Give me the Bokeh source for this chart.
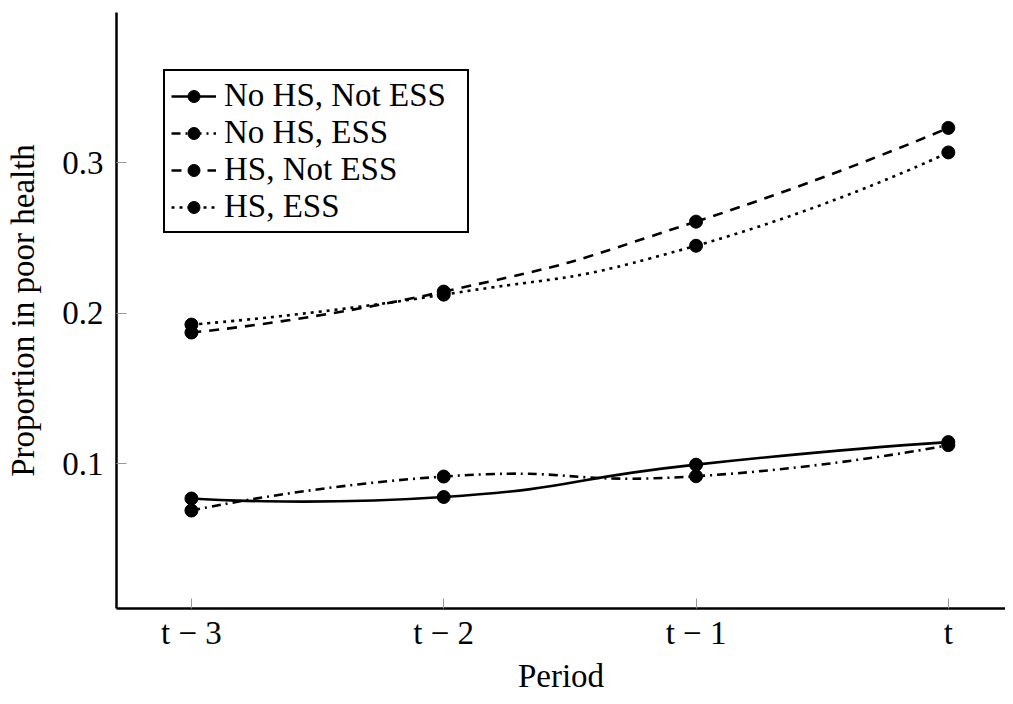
from bokeh.plotting import figure
from bokeh.models import FixedTicker, Legend, LegendItem, ColumnDataSource, Range1d
from bokeh.embed import file_html
from bokeh.resources import INLINE

# ---- data ----
periods = ["t − 3", "t − 2", "t − 1", "t"]
period_idx = [0, 1, 2, 3]
no_hs_not_ess = [0.077, 0.078, 0.0995, 0.1145]
no_hs_ess = [0.069, 0.0916, 0.0918, 0.1125]
hs_not_ess = [0.1873, 0.2145, 0.261, 0.3233]
hs_ess = [0.1926, 0.2125, 0.245, 0.307]
series_names = ["No HS, Not ESS", "No HS, ESS", "HS, Not ESS", "HS, ESS"]
series_values = [no_hs_not_ess, no_hs_ess, hs_not_ess, hs_ess]
series_dash = ["solid", "9 5 2 5", "10 8", "3 5"]

FONT = "Liberation Serif"


def smooth_source(xs, ys, k=0.2775):
    """Cubic Bezier segments through the data points (TikZ 'smooth' style)."""
    pts = list(zip(xs, ys))
    n = len(pts)
    d = {key: [] for key in ["x0", "y0", "x1", "y1", "cx0", "cy0", "cx1", "cy1"]}
    for i in range(n - 1):
        pa, pb = pts[i], pts[i + 1]
        if i == 0:
            c0 = pa
        else:
            c0 = (pa[0] + k * (pts[i + 1][0] - pts[i - 1][0]),
                  pa[1] + k * (pts[i + 1][1] - pts[i - 1][1]))
        if i + 1 == n - 1:
            c1 = pb
        else:
            c1 = (pb[0] - k * (pts[i + 2][0] - pts[i][0]),
                  pb[1] - k * (pts[i + 2][1] - pts[i][1]))
        d["x0"].append(pa[0]); d["y0"].append(pa[1])
        d["x1"].append(pb[0]); d["y1"].append(pb[1])
        d["cx0"].append(c0[0]); d["cy0"].append(c0[1])
        d["cx1"].append(c1[0]); d["cy1"].append(c1[1])
    return ColumnDataSource(d)


p = figure(width=1005, height=696, output_backend="svg", toolbar_location=None,
           x_range=Range1d(-0.297, 3.2266), y_range=Range1d(0.0039, 0.4),
           min_border_left=116, min_border_right=0, min_border_top=12,
           min_border_bottom=88)
p.outline_line_color = None
p.grid.visible = False
p.background_fill_color = "white"

items = []
for name, vals, dash in zip(series_names, series_values, series_dash):
    src = smooth_source(period_idx, vals)
    bz = p.bezier(x0="x0", y0="y0", x1="x1", y1="y1", cx0="cx0", cy0="cy0",
                  cx1="cx1", cy1="cy1", source=src, line_color="black",
                  line_width=2.6, line_dash=dash)
    sc = p.scatter(period_idx, vals, marker="circle", size=13,
                   fill_color="black", line_color="black")
    items.append(LegendItem(label=name, renderers=[bz, sc]))

legend = Legend(items=items, location=(47, 375), margin=0, padding=6,
                spacing=0, glyph_width=45, glyph_height=30, label_height=35,
                label_width=237, label_standoff=8,
                border_line_color="black", border_line_alpha=1.0,
                border_line_width=2.5, background_fill_color="white",
                background_fill_alpha=1.0, label_text_font=FONT,
                label_text_font_size="33px", label_text_color="black")
p.add_layout(legend)

# axes
p.xaxis.ticker = FixedTicker(ticks=period_idx)
p.xaxis.major_label_overrides = {i: lab for i, lab in zip(period_idx, periods)}
p.yaxis.ticker = FixedTicker(ticks=[0.1, 0.2, 0.3])
p.xaxis.axis_label = "Period"
p.yaxis.axis_label = "Proportion in poor health"
for ax in (p.xaxis, p.yaxis):
    ax.axis_line_color = "black"
    ax.axis_line_width = 2.5
    ax.major_tick_in = 10
    ax.major_tick_out = 0
    ax.major_tick_line_color = "#999999"
    ax.major_tick_line_width = 1
    ax.minor_tick_line_color = None
    ax.major_label_text_font = FONT
    ax.major_label_text_font_size = "33px"
    ax.major_label_text_color = "black"
    ax.axis_label_text_font = FONT
    ax.axis_label_text_font_size = "33px"
    ax.axis_label_text_font_style = "normal"
    ax.axis_label_text_color = "black"
p.xaxis.major_label_standoff = 6
p.xaxis.axis_label_standoff = 4
p.yaxis.major_label_standoff = 13
p.yaxis.axis_label_standoff = 18

open("out.html", "w").write(file_html(p, INLINE))
